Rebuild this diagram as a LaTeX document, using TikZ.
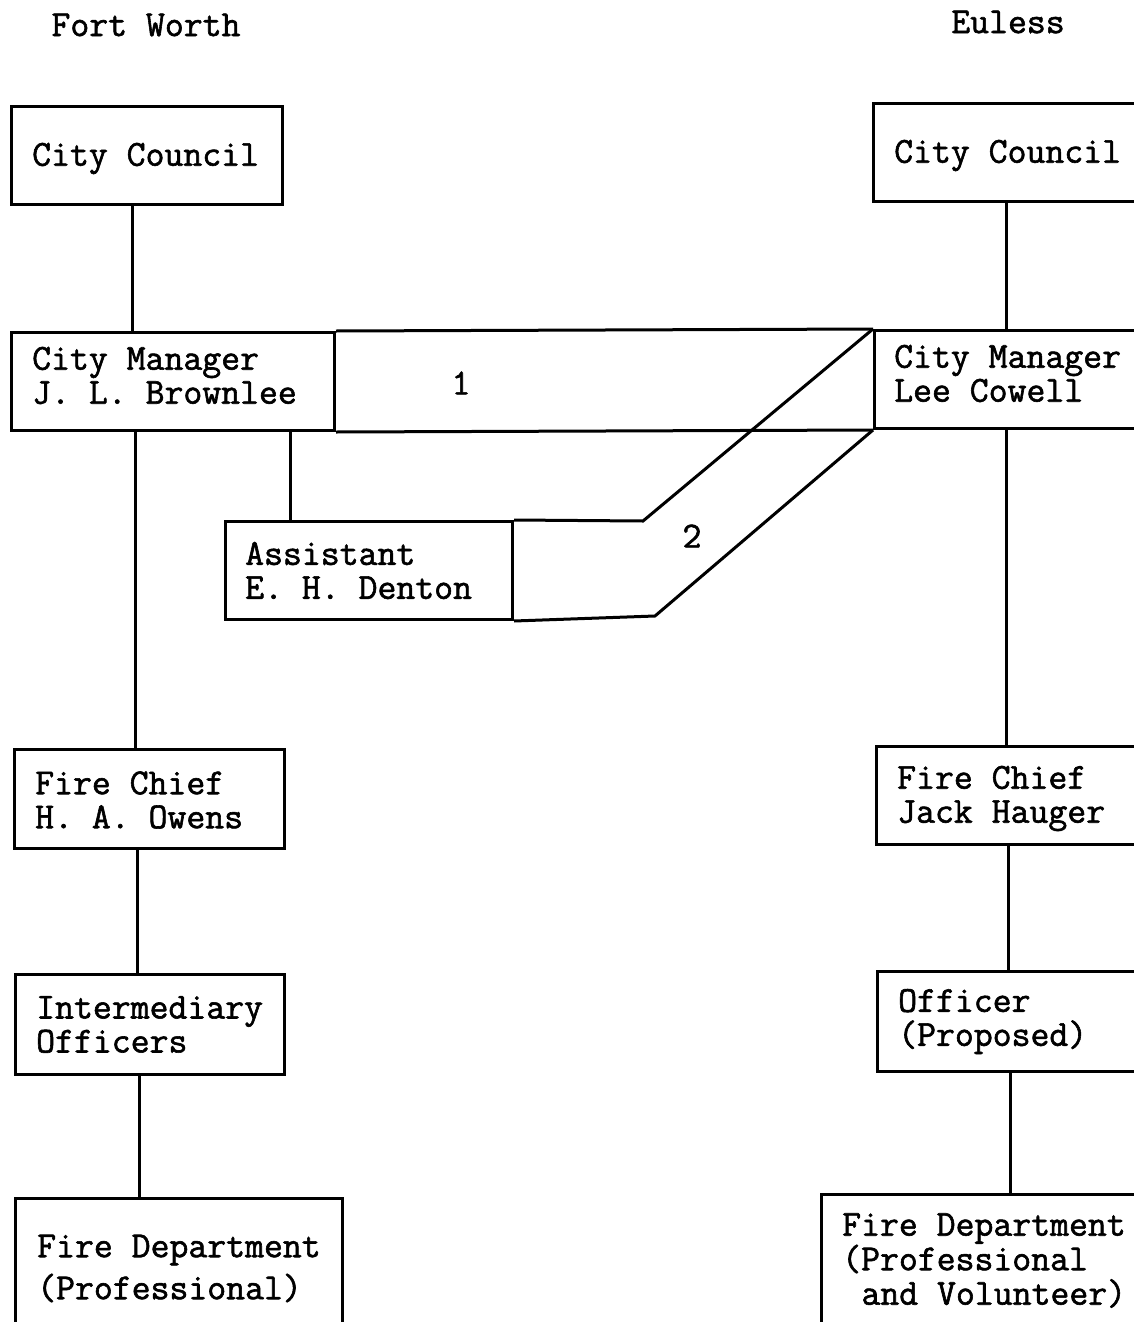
\documentclass[tikz,border=0pt]{standalone}
\usepackage{fontspec}
\newfontfamily\tw[RawFeature={embolden=1.6}]{lmmono12-regular.otf}
\begin{document}
\begin{tikzpicture}[x=1pt,y=-1pt,
  every node/.style={font=\tw\fontsize{36.7}{34}\selectfont},
  box/.style={draw, line width=3pt, anchor=north west, inner sep=0pt},
  txt/.style={anchor=west, align=left, inner sep=0pt},
  link/.style={line width=3pt},
]
\useasboundingbox (0,0) rectangle (1134,1322);
\clip (0,0) rectangle (1134,1322);
% headers
\node (hfw) at (146,25) {Fort Worth};
\node (heu) at (1008,22) {Euless};
% Fort Worth boxes
\node[box, minimum width=271pt, minimum height=98pt] (fwcc) at (10,105) {};
\node[box, minimum width=323pt, minimum height=98pt] (fwcm) at (10,331) {};
\node[box, minimum width=287pt, minimum height=98pt] (asst) at (224,520) {};
\node[box, minimum width=270pt, minimum height=99pt] (fwfc) at (13,748) {};
\node[box, minimum width=269pt, minimum height=100pt] (fwio) at (14,973) {};
\node[box, minimum width=327pt, minimum height=140pt] (fwfd) at (14,1197) {};
% Euless boxes
\node[box, minimum width=300pt, minimum height=98pt] (eucc) at (872,102) {};
\node[box, minimum width=300pt, minimum height=98pt] (eucm) at (873,329) {};
\node[box, minimum width=300pt, minimum height=98pt] (eufc) at (875,745) {};
\node[box, minimum width=300pt, minimum height=100pt] (euof) at (876,970) {};
\node[box, minimum width=340pt, minimum height=132pt] (eufd) at (820,1193) {};
% box texts
\node[txt] (fwcct) at ([xshift=22pt,yshift=-3pt]fwcc.west) {City Council};
\node[txt] (fwcmt) at ([xshift=22pt,yshift=6pt]fwcm.west) {City Manager\\J. L. Brownlee};
\node[txt] (asstt) at ([xshift=21pt]asst.west) {Assistant\\E. H. Denton};
\node[txt] (fwfct) at ([xshift=22pt,yshift=-1pt]fwfc.west) {Fire Chief\\H. A. Owens};
\node[txt] (fwiot) at ([xshift=22pt]fwio.west) {Intermediary\\Officers};
\node[txt, font=\tw\fontsize{36.7}{42}\selectfont] (fwfdt) at ([xshift=23pt]fwfd.west) {Fire Department\\(Professional)};
\node[txt] (eucct) at ([xshift=22pt,yshift=-3pt]eucc.west) {City Council};
\node[txt] (eucmt) at ([xshift=21pt,yshift=6pt]eucm.west) {City Manager\\Lee Cowell};
\node[txt] (eufct) at ([xshift=22pt,yshift=-3pt]eufc.west) {Fire Chief\\Jack Hauger};
\node[txt] (euoft) at ([xshift=22pt]euof.west) {Officer\\(Proposed)};
\node[txt, font=\tw\fontsize{36.7}{34.5}\selectfont] (eufdt) at ([xshift=22pt]eufd.west) {Fire Department\\(Professional\\\hspace*{0.525em}and Volunteer)};
% channel labels
\node (n1) at (461,383) {1};
\node (n2) at (692,536) {2};
% Fort Worth spine
\draw[link] ([xshift=122pt]fwcc.south west) -- ([xshift=122pt]fwcc.south west |- fwcm.north);
\draw[link] ([xshift=125pt]fwcm.south west) -- ([xshift=125pt]fwcm.south west |- fwfc.north);
\draw[link] ([xshift=124pt]fwfc.south west) -- ([xshift=124pt]fwfc.south west |- fwio.north);
\draw[link] ([xshift=125pt]fwio.south west) -- ([xshift=125pt]fwio.south west |- fwfd.north);
\draw[link] ([xshift=66pt]asst.north west) -- ([xshift=66pt]asst.north west |- fwcm.south);
% Euless spine
\draw[link] ([xshift=134pt]eucc.south west) -- ([xshift=134pt]eucc.south west |- eucm.north);
\draw[link] ([xshift=133pt]eucm.south west) -- ([xshift=133pt]eucm.south west |- eufc.north);
\draw[link] ([xshift=133pt]eufc.south west) -- ([xshift=133pt]eufc.south west |- euof.north);
\draw[link] ([xshift=134pt]euof.south west) -- ([xshift=134pt]euof.south west |- eufd.north);
% channels
\coordinate (c2a) at (643,521);
\coordinate (c2b) at (655,616);
\draw[link] (fwcm.north east) -- (eucm.north west);
\draw[link] (fwcm.south east) -- (eucm.south west);
\draw[link] (asst.north east) -- (c2a) -- (eucm.north west);
\draw[link] (asst.south east) -- (c2b) -- (eucm.south west);
\end{tikzpicture}
\end{document}
